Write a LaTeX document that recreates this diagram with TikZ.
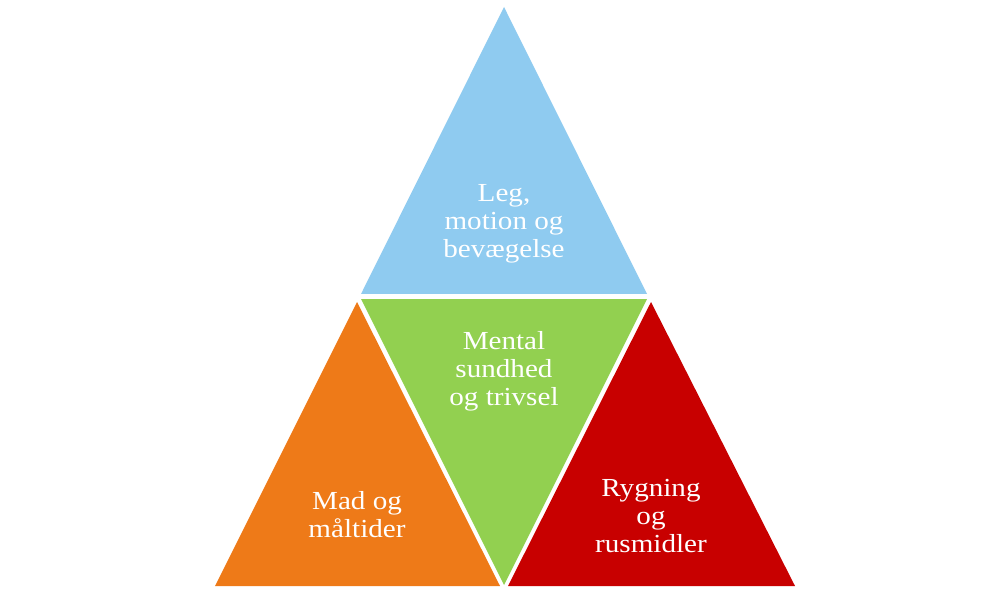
\documentclass[tikz,border=0pt]{standalone}
\usepackage{fontspec}
\setmainfont[FakeStretch=1.12]{Liberation Serif}
\definecolor{cblue}{RGB}{143,203,240}
\definecolor{cgreen}{RGB}{146,208,80}
\definecolor{corange}{RGB}{238,122,24}
\definecolor{cred}{RGB}{200,0,0}
\tikzset{
  lbl/.style={anchor=base, align=center, text=white, inner sep=0pt,
    font=\fontsize{26}{28}\selectfont}
}
\begin{document}
\begin{tikzpicture}[x=1pt,y=-1pt]
\useasboundingbox[fill=white] (0,0) rectangle (1008,593);
% triangles
\fill[cblue]   (504,7) -- (647,294) -- (361,294) -- cycle;
\fill[cgreen]  (361,299) -- (647,299) -- (504,585) -- cycle;
\fill[corange] (357,302) -- (500,586) -- (215,586) -- cycle;
\fill[cred]    (651,302) -- (795,586) -- (508,586) -- cycle;
% labels (base anchor = baseline of the last line)
\node[lbl] (leg)  at (504,258) {Leg,\\motion og\\bevægelse};
\node[lbl] (ment) at (504,405) {Mental\\sundhed\\og trivsel};
\node[lbl] (mad)  at (357,537) {Mad og\\måltider};
\node[lbl] (ryg)  at (651,552) {Rygning\\og\\rusmidler};
\end{tikzpicture}
\end{document}
